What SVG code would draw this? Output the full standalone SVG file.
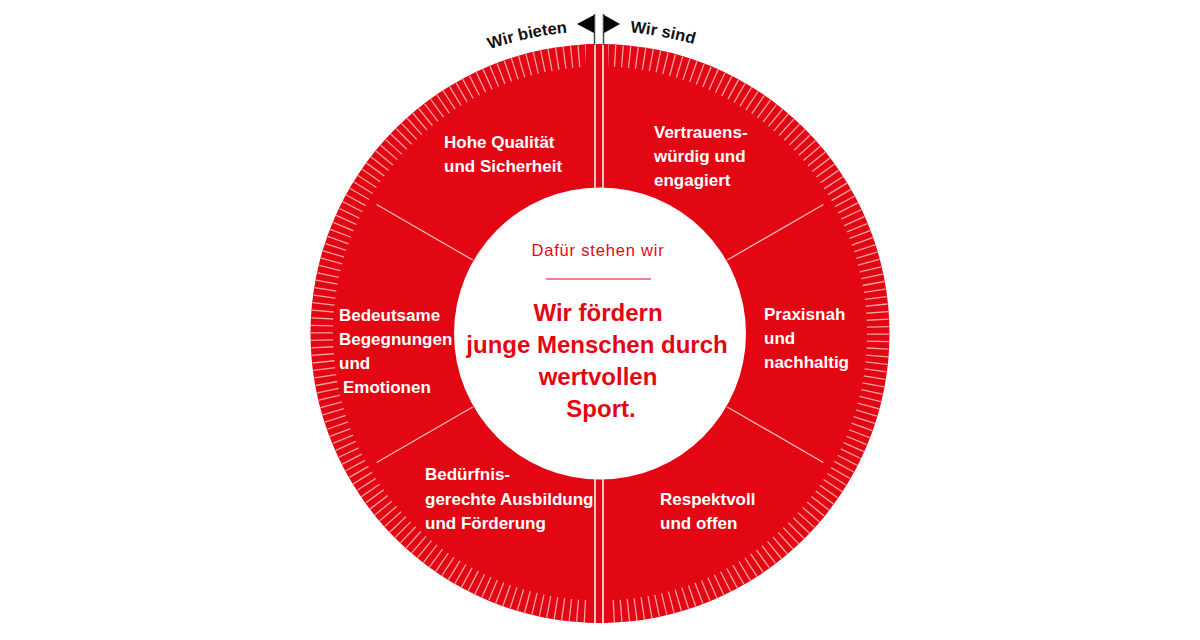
<svg xmlns="http://www.w3.org/2000/svg" width="1200" height="640" viewBox="0 0 1200 640">
  <style>
    .lbl { font-family: "Liberation Sans", Arial, sans-serif; font-weight: bold; font-size: 17px; fill: #ffffff; }
    .arc { font-family: "Liberation Sans", Arial, sans-serif; font-weight: bold; font-size: 16.5px; fill: #111111; }
    .sub { font-family: "Liberation Sans", Arial, sans-serif; font-size: 16.5px; letter-spacing: 0.8px; fill: #e30613; }
    .main { font-family: "Liberation Sans", Arial, sans-serif; font-weight: bold; font-size: 24px; fill: #e30613; text-anchor: middle; }
    .div { stroke: #ffffff; stroke-opacity: 0.75; stroke-width: 1.2; }
    .axis { stroke: #ffffff; stroke-width: 1.5; }
    .pole { stroke: #444444; stroke-width: 1.5; }
  </style>
  <defs>
    <path id="toparc" d="M260,371 A340,340 0 0,1 940,371" fill="none"/>
    <clipPath id="disc">
      <circle cx="600" cy="333.5" r="289.5"/>
    </clipPath>
  </defs>
  <rect width="1200" height="640" fill="#ffffff"/>

  <g id="wheel">
    <circle cx="600" cy="333.5" r="289.5" fill="#e30613"/>
    <circle cx="600" cy="333.5" r="278" fill="none" stroke="#ffffff" stroke-opacity="0.62" stroke-width="22" pathLength="360" stroke-dasharray="0.27 1.23"/>
    <g clip-path="url(#disc)">
      <rect x="586" y="40" width="22" height="35" fill="#e30613"/>
      <rect x="586" y="592" width="22" height="35" fill="#e30613"/>
    </g>
  </g>

  <g id="connectors">
    <line class="div" x1="376.6" y1="204.5" x2="472.7" y2="260"/>
    <line class="div" x1="823.4" y1="204.5" x2="727.3" y2="260"/>
    <line class="div" x1="727.3" y1="407" x2="823.4" y2="462.5"/>
    <line class="div" x1="472.7" y1="407" x2="376.6" y2="462.5"/>
    <line class="axis" x1="595" y1="44" x2="595" y2="190"/>
    <line class="axis" x1="603" y1="44" x2="603" y2="190"/>
    <line class="axis" x1="595" y1="477" x2="595" y2="623"/>
    <line class="axis" x1="603" y1="477" x2="603" y2="623"/>
  </g>

  <g id="flags">
    <line class="pole" x1="594.5" y1="14" x2="594.5" y2="45"/>
    <line class="pole" x1="603.5" y1="14" x2="603.5" y2="45"/>
    <polygon points="594,15 594,33 577,24" fill="#000000"/>
    <polygon points="604,15 604,33 620,24" fill="#000000"/>
    <text class="arc" text-anchor="end"><textPath href="#toparc" startOffset="501">Wir bieten</textPath></text>
    <text class="arc" text-anchor="start"><textPath href="#toparc" startOffset="564">Wir sind</textPath></text>
  </g>

  <g id="center">
    <circle cx="600" cy="333.5" r="146" fill="#ffffff"/>
    <text class="sub" x="598" y="256" text-anchor="middle">Dafür stehen wir</text>
    <line x1="546" y1="279" x2="651" y2="279" stroke="#e30613" stroke-width="1"/>
    <text class="main" x="598" y="321">Wir fördern</text>
    <text class="main" x="597" y="353">junge Menschen durch</text>
    <text class="main" x="598" y="385">wertvollen</text>
    <text class="main" x="601" y="417">Sport.</text>
  </g>

  <g id="qualitaet">
    <text class="lbl" x="444" y="148">Hohe Qualität</text>
    <text class="lbl" x="444" y="172">und Sicherheit</text>
  </g>
  <g id="vertrauen">
    <text class="lbl" x="654" y="138">Vertrauens-</text>
    <text class="lbl" x="654" y="162">würdig und</text>
    <text class="lbl" x="654" y="186">engagiert</text>
  </g>
  <g id="begegnungen">
    <text class="lbl" x="339" y="321">Bedeutsame</text>
    <text class="lbl" x="339" y="345">Begegnungen</text>
    <text class="lbl" x="339" y="369">und</text>
    <text class="lbl" x="343" y="393">Emotionen</text>
  </g>
  <g id="praxisnah">
    <text class="lbl" x="764" y="320">Praxisnah</text>
    <text class="lbl" x="764" y="344">und</text>
    <text class="lbl" x="764" y="368">nachhaltig</text>
  </g>
  <g id="ausbildung">
    <text class="lbl" x="425" y="480">Bedürfnis-</text>
    <text class="lbl" x="425" y="505">gerechte Ausbildung</text>
    <text class="lbl" x="425" y="529">und Förderung</text>
  </g>
  <g id="respekt">
    <text class="lbl" x="660" y="505">Respektvoll</text>
    <text class="lbl" x="660" y="529">und offen</text>
  </g>
</svg>
